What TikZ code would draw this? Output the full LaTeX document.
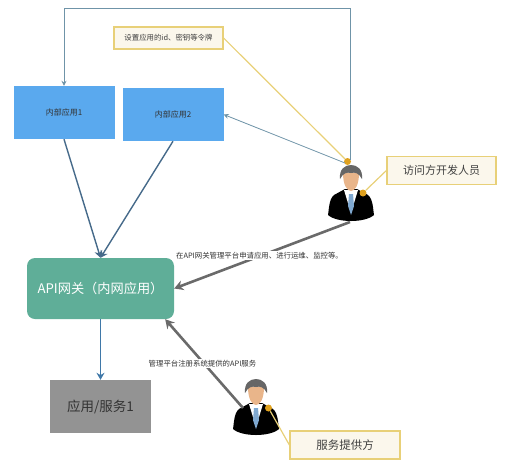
\documentclass[tikz,border=0pt]{standalone}
\usepackage{fontspec}
\setmainfont{Noto Sans CJK SC}
\definecolor{appblue}{HTML}{5AA9EE}
\definecolor{gatewaygreen}{HTML}{5FAE98}
\definecolor{servicegray}{HTML}{939393}
\definecolor{lineblue}{HTML}{6F94A8}
\definecolor{flowblue}{HTML}{466A8A}
\definecolor{downblue}{HTML}{3F78A8}
\definecolor{noteline}{HTML}{E8D078}
\definecolor{notefill}{HTML}{FBF7EC}
\definecolor{dotorange}{HTML}{DFA11F}
\definecolor{thickgray}{HTML}{6A6A6A}
\definecolor{tieblue}{HTML}{7FA8D0}
\definecolor{facetan}{HTML}{E9B58A}
\usetikzlibrary{arrows.meta}
\tikzset{
    appbox/.style={fill=appblue, text=black!80, font=\fontsize{8}{8}\selectfont, inner sep=0pt, minimum width=101pt, minimum height=53pt},
    notebox/.style={draw=noteline, fill=notefill, line width=1.2pt, text=black!75, inner sep=0pt},
    thinarrow/.style={draw=lineblue, line width=0.8pt, -{Stealth[length=5pt,width=5pt]}},
    flowarrow/.style={draw=flowblue, line width=1.4pt, -{Stealth[length=7pt,width=8pt]}},
    thickarrow/.style={draw=thickgray, line width=2.6pt, -{Stealth[length=9pt,width=10pt]}},
    noteline/.style={draw=noteline, line width=1.2pt},
    notedot/.style={circle, fill=dotorange, inner sep=0pt, minimum size=7pt},
    flowlabel/.style={fill=white, text=black!80, font=\fontsize{7.4}{8}\selectfont, inner sep=1pt}
}
% 人物图标, (0,0) 为头顶
\newcommand{\drawperson}[1]{
    \begin{scope}[shift={(#1)}]
        \fill[black] (-6,24) -- (-17,30) .. controls (-22,34) and (-22,44) .. (-23,50) .. controls (-14,58) and (14,58) .. (23,50) .. controls (22,44) and (22,34) .. (17,30) -- (6,24) -- cycle;
        \fill[white] (-7,25) -- (7,25) -- (0,48) -- cycle;
        \fill[tieblue] (-2,29) -- (2,29) -- (3,41) -- (0,50) -- (-3,41) -- cycle;
        \fill[facetan] (-8,8) .. controls (-8,20) and (-4,26) .. (0,26) .. controls (4,26) and (8,20) .. (8,8) -- cycle;
        \fill[black!60] (-11,14) .. controls (-12,4) and (-6,0) .. (0,0) .. controls (6,0) and (12,4) .. (11,14) .. controls (8,8) and (4,7) .. (0,8) .. controls (-4,7) and (-8,8) .. (-11,14) -- cycle;
    \end{scope}
}
\begin{document}
\begin{tikzpicture}[x=1pt, y=-1pt]
    \useasboundingbox (0,0) rectangle (511,467);

    % 内部应用
    \node[appbox] (inner1) at (64,112.5) {内部应用1};
    \node[appbox] (inner2) at (173,114.5) {内部应用2};

    % 网关和服务
    \node[fill=gatewaygreen, rounded corners=8pt, text=white, font=\fontsize{13.2}{14}\selectfont, inner sep=0pt, minimum width=147pt, minimum height=61pt] (gateway) at (100.5,288.5) {API网关（内网应用）};
    \node[fill=servicegray, text=black!80, font=\fontsize{13.5}{14}\selectfont, inner sep=0pt, minimum width=101pt, minimum height=53pt] (service) at (100.5,406.5) {应用/服务1};

    % 人物
    \drawperson{351,165}
    \drawperson{256,379}
    \coordinate (developer) at (350,222);
    \coordinate (provider) at (243,408);
    \coordinate (developertop) at (350.5,160);
    \coordinate (developerleft) at (345,163);
    \coordinate (topline) at (64,8);

    % 说明框
    \node[notebox, font=\fontsize{7.4}{8}\selectfont, minimum width=109pt, minimum height=22pt] (tokennote) at (168.5,38) {设置应用的id、密钥等令牌};
    \node[notebox, font=\fontsize{11}{12}\selectfont, minimum width=109pt, minimum height=28pt] (developernote) at (441.5,170.5) {访问方开发人员};
    \node[notebox, font=\fontsize{11.5}{12}\selectfont, minimum width=110pt, minimum height=28pt] (providernote) at (345,445) {服务提供方};

    \node[notedot] (dottoken) at (347.5,161.5) {};
    \node[notedot] (dotdeveloper) at (363,193) {};
    \node[notedot] (dotprovider) at (268.5,408) {};

    \draw[noteline] (tokennote.east) -- (dottoken);
    \draw[noteline] (developernote.west) -- (dotdeveloper);
    \draw[noteline] (providernote.west) -- (dotprovider);

    % 细箭头
    \draw[thinarrow] (developertop) |- (topline) -- (inner1.north);
    \draw[thinarrow] (developerleft) -- (inner2.east);
    \draw[flowarrow] (inner1.south) -- (gateway.north);
    \draw[flowarrow] (inner2.south) -- (gateway.north);
    \draw[flowarrow, draw=downblue] (gateway.south) -- (service.north);

    % 粗箭头
    \draw[thickarrow] (developer) -- (gateway.east);
    \draw[thickarrow] (provider) -- ([xshift=-9pt]gateway.south east);

    \node[flowlabel] (applylabel) at (259.5,255.5) {在API网关管理平台申请应用、进行运维、监控等。};
    \node[flowlabel] (registerlabel) at (202.5,363.5) {管理平台注册系统提供的API服务};
\end{tikzpicture}
\end{document}
